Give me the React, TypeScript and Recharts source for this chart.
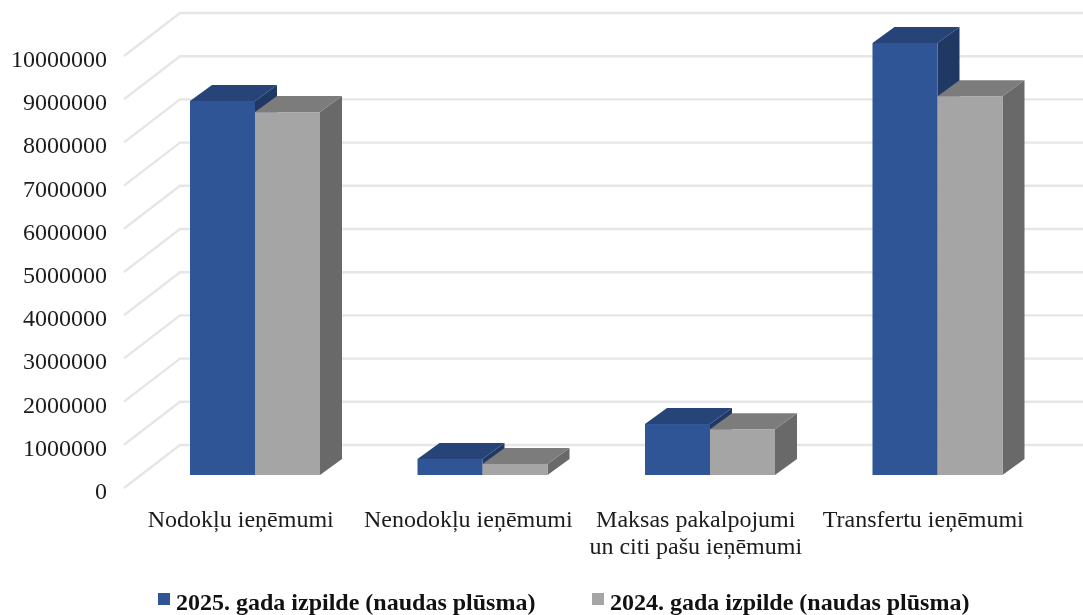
import React from "react";
import { BarChart, Bar, XAxis, YAxis, CartesianGrid, Legend } from "recharts";

const categories = ["Nodokļu ieņēmumi", "Nenodokļu ieņēmumi", "Maksas pakalpojumi|un citi pašu ieņēmumi", "Transfertu ieņēmumi"];
const series2025 = [8660000, 370000, 1180000, 10000000];
const series2024 = [8400000, 255000, 1060000, 8770000];
const yTicks = [0, 1000000, 2000000, 3000000, 4000000, 5000000, 6000000, 7000000, 8000000, 9000000, 10000000];
const name2025 = "2025. gada izpilde (naudas plūsma)";
const name2024 = "2024. gada izpilde (naudas plūsma)";

const rows = categories.map((c, i) => ({ c, a: series2025[i], b: series2024[i] }));

const FONT = "'Liberation Serif', serif";
const TXT = "#1c1c1c";
const WALL_DX = 56, WALL_DY = 43;
const OFF_DX = 17, OFF_DY = 13;
const DEPTH_DX = 22, DEPTH_DY = 16;

const makeBar = (front: string, top: string, side: string) => (p: any) => {
  const x = p.x + OFF_DX, w = p.width, y = p.y - OFF_DY, h = p.height;
  return (
    <g>
      <polygon fill={side} points={`${x + w},${y} ${x + w + DEPTH_DX},${y - DEPTH_DY} ${x + w + DEPTH_DX},${y + h - DEPTH_DY} ${x + w},${y + h}`} />
      <polygon fill={top} points={`${x},${y} ${x + DEPTH_DX},${y - DEPTH_DY} ${x + w + DEPTH_DX},${y - DEPTH_DY} ${x + w},${y}`} />
      <rect x={x} y={y} width={w} height={h} fill={front} />
    </g>
  );
};

const gridLine = (p: any) => (
  <polyline
    key={p.key ?? p.y1}
    fill="none"
    stroke="#e6e6e6"
    strokeWidth={2.4}
    points={`${p.x1},${p.y1} ${p.x1 + WALL_DX},${p.y1 - WALL_DY} 1083,${p.y1 - WALL_DY}`}
  />
);

const XTick = (p: any) => {
  const lines = String(p.payload.value).split("|");
  return (
    <text x={p.x + 3} y={527} textAnchor="middle" fontFamily={FONT} fontSize={24} fill={TXT}>
      {lines.map((l, i) => (
        <tspan key={i} x={p.x + 3} dy={i === 0 ? 0 : 27}>{l}</tspan>
      ))}
    </text>
  );
};

const YTick = (p: any) => (
  <text x={107} y={p.y + 11} textAnchor="end" fontFamily={FONT} fontSize={24} fill={TXT}>
    {p.payload.value}
  </text>
);

const LegendBox = (p: any) => {
  const xs = [158, 592];
  return (
    <div style={{ position: "relative", width: 1083, height: 0 }}>
      {(p.payload ?? []).map((e: any, i: number) => (
        <React.Fragment key={i}>
          <div style={{ position: "absolute", left: xs[i], top: 5, width: 12, height: 12, background: e.color }} />
          <div style={{ position: "absolute", left: xs[i] + 18, top: 0, fontFamily: FONT, fontSize: 24, fontWeight: 700, color: "#111", whiteSpace: "nowrap", lineHeight: "28px" }}>{e.value}</div>
        </React.Fragment>
      ))}
    </div>
  );
};

export default function App() {
  return (
    <div style={{ position: "absolute", left: 0, top: 0, width: 1083, height: 615, background: "#fff", overflow: "hidden", filter: "blur(0.5px)" }}>
      <BarChart width={1083} height={615} data={rows} barSize={65} barGap={0} margin={{ top: 56, right: 49, bottom: 0, left: 0 }}>
        <CartesianGrid vertical={false} horizontal={gridLine as any} />
        <XAxis dataKey="c" height={127} axisLine={false} tickLine={false} tick={XTick as any} interval={0} />
        <YAxis width={124} domain={[0, 10000000]} ticks={yTicks} axisLine={false} tickLine={false} tick={YTick as any} interval={0} />
        <Legend verticalAlign="bottom" itemSorter={null as any} content={LegendBox as any} wrapperStyle={{ left: 0, top: 588, width: 1083, height: 0 }} />
        <Bar dataKey="a" name={name2025} fill="#2f5597" isAnimationActive={false} shape={makeBar("#2f5597", "#264478", "#203864") as any} />
        <Bar dataKey="b" name={name2024} fill="#a5a5a5" isAnimationActive={false} shape={makeBar("#a5a5a5", "#7c7c7c", "#696969") as any} />
      </BarChart>
    </div>
  );
}
